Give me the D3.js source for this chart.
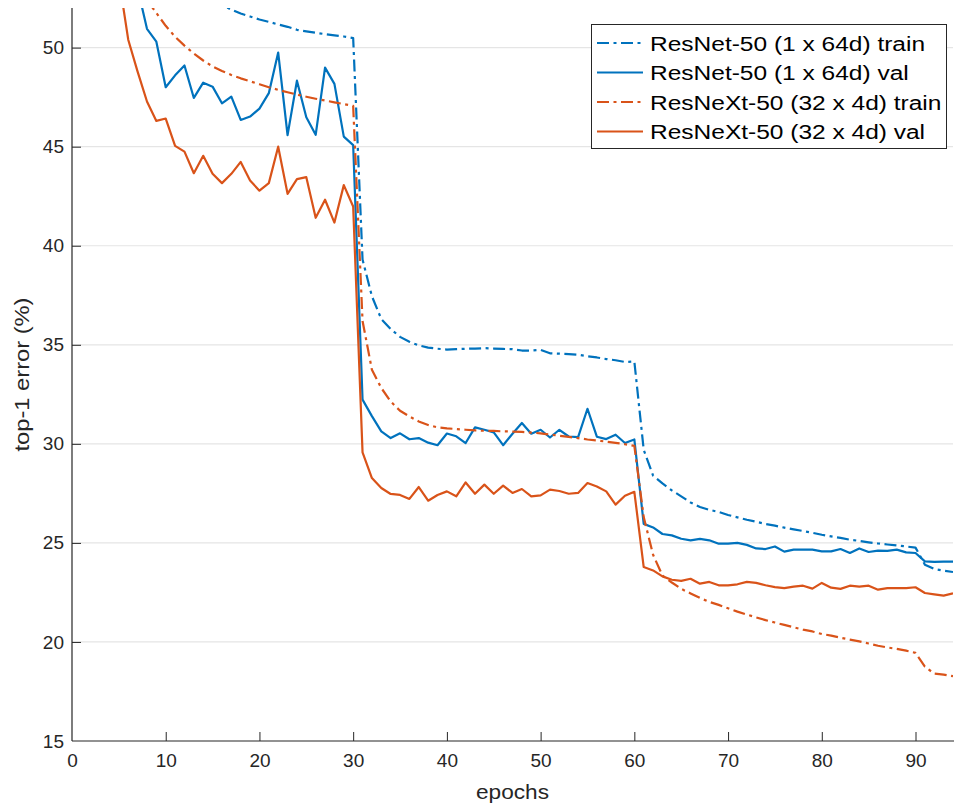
<!DOCTYPE html>
<html>
<head>
<meta charset="utf-8">
<script src="https://cdn.jsdelivr.net/npm/d3@7"></script>
<style>
  html, body { margin: 0; padding: 0; background: #fff; }
  svg { display: block; font-family: "Liberation Sans", Arial, Helvetica, sans-serif; }
</style>
</head>
<body>
<svg id="chart" width="954" height="804"></svg>
<script>
// ---------------- data ----------------
const seriesNames = [
  "ResNet-50 (1 x 64d) train",
  "ResNet-50 (1 x 64d) val",
  "ResNeXt-50 (32 x 4d) train",
  "ResNeXt-50 (32 x 4d) val"
];
const seriesStart = [15, 7, 8, 5]; // first epoch of each series (earlier values are off-scale)

const resnetTrain = [
  52.4, 52.15, 51.92, 51.72, 51.57, 51.42, 51.3, 51.17, 51.05, 50.9, 50.82, 50.75, 50.68, 50.62, 50.56, 50.48,
  39.3, 37.45, 36.3, 35.8, 35.4, 35.15, 34.97, 34.86, 34.8, 34.76, 34.78, 34.8, 34.81, 34.83, 34.81, 34.79, 34.78, 34.71, 34.71, 34.74,
  34.57, 34.55, 34.53, 34.5, 34.42, 34.36, 34.28, 34.22, 34.13, 34.16,
  29.7, 28.4, 28.0, 27.65, 27.35, 27.04, 26.81, 26.67, 26.56, 26.41, 26.29, 26.17, 26.07, 25.95, 25.87, 25.77, 25.68, 25.6, 25.51, 25.41,
  25.33, 25.25, 25.16, 25.1, 25.03, 24.97, 24.92, 24.87, 24.82, 24.76, 23.9, 23.68, 23.6, 23.53
];
const resnetVal = [
  53.0, 50.95, 50.3, 48.0, 48.6, 49.1, 47.46, 48.23, 48.03, 47.19, 47.53, 46.35, 46.52, 46.92, 47.7, 49.75, 45.58, 48.33, 46.49, 45.6,
  48.99, 48.17, 45.51, 45.08,
  32.23, 31.4, 30.63, 30.29, 30.53, 30.23, 30.29, 30.06, 29.93, 30.52, 30.38, 30.04, 30.83, 30.71, 30.58, 29.93, 30.51, 31.05, 30.51, 30.71,
  30.32, 30.71, 30.37, 30.34, 31.77, 30.36, 30.24, 30.46, 30.04, 30.22,
  25.96, 25.78, 25.45, 25.38, 25.21, 25.13, 25.2, 25.13, 24.96, 24.96, 25.0, 24.9, 24.72, 24.69, 24.82, 24.56, 24.66, 24.66, 24.66, 24.57,
  24.57, 24.69, 24.49, 24.72, 24.54, 24.61, 24.6, 24.66, 24.52, 24.49, 24.07, 24.04, 24.05, 24.05
];
const resnextTrain = [
  52.4, 51.75, 51.1, 50.55, 50.1, 49.7, 49.35, 49.05, 48.82, 48.62, 48.45, 48.3, 48.15, 48.0, 47.87, 47.75, 47.63, 47.52, 47.42, 47.33,
  47.24, 47.15, 47.06,
  36.2, 33.74, 32.82, 32.14, 31.67, 31.38, 31.13, 30.95, 30.83, 30.78, 30.75, 30.71, 30.68, 30.66, 30.65, 30.63, 30.62, 30.6, 30.57, 30.53,
  30.47, 30.41, 30.35, 30.29, 30.22, 30.17, 30.11, 30.05, 29.98, 29.9,
  26.3, 24.4, 23.35, 23.0, 22.68, 22.45, 22.22, 22.02, 21.87, 21.7, 21.53, 21.38, 21.24, 21.1, 20.98, 20.86, 20.74, 20.62, 20.53, 20.4,
  20.32, 20.21, 20.12, 20.03, 19.92, 19.81, 19.72, 19.65, 19.56, 19.45, 18.75, 18.4, 18.35, 18.27
];
const resnextVal = [
  53.5, 50.4, 48.79, 47.28, 46.3, 46.42, 45.04, 44.75, 43.66, 44.54, 43.63, 43.16, 43.63, 44.23, 43.29, 42.78, 43.16, 45.0, 42.62, 43.36,
  43.46, 41.41, 42.32, 41.17, 43.06, 41.98,
  29.57, 28.27, 27.77, 27.47, 27.42, 27.22, 27.82, 27.13, 27.42, 27.6, 27.35, 28.05, 27.48, 27.94, 27.48, 27.89, 27.52, 27.72, 27.35, 27.4,
  27.69, 27.62, 27.48, 27.52, 28.02, 27.85, 27.6, 26.93, 27.38, 27.58,
  23.78, 23.61, 23.31, 23.14, 23.08, 23.19, 22.94, 23.03, 22.86, 22.86, 22.91, 23.03, 22.98, 22.86, 22.77, 22.72, 22.79, 22.84, 22.69, 22.98,
  22.74, 22.68, 22.84, 22.79, 22.84, 22.64, 22.72, 22.72, 22.72, 22.76, 22.47, 22.4, 22.34, 22.45
];
const xTicks = [0, 10, 20, 30, 40, 50, 60, 70, 80, 90];
const yTicks = [15, 20, 25, 30, 35, 40, 45, 50];
const xLabel = "epochs";
const yLabel = "top-1 error (%)";

// ---------------- styles ----------------
const colors = ["#0072BD", "#0072BD", "#D95319", "#D95319"];
const dashes = ["12,4.5,3,4.5", null, "12,4.5,3,4.5", null];
const allValues = [resnetTrain, resnetVal, resnextTrain, resnextVal];

// ---------------- layout ----------------
const pLeft = 72, pRight = 953, pTop = 8, pBottom = 741;
const svg = d3.select("#chart");

const x = d3.scaleLinear().domain([0, 94]).range([pLeft, pRight]);
const y = d3.scaleLinear().domain([15, 52]).range([pBottom, pTop]);

svg.append("defs").append("clipPath").attr("id", "plotclip")
  .append("rect").attr("x", pLeft).attr("y", pTop).attr("width", pRight - pLeft).attr("height", pBottom - pTop);

// grid
svg.append("g").selectAll("line").data(yTicks.filter(t => t > 15)).join("line")
  .attr("x1", pLeft).attr("x2", pRight)
  .attr("y1", d => y(d)).attr("y2", d => y(d))
  .attr("stroke", "#e5e5e5").attr("stroke-width", 1.2);

// lines
const series = allValues.map((vals, i) => vals.map((v, j) => ({ e: seriesStart[i] + j, v })));
const line = d3.line().x(d => x(d.e)).y(d => y(d.v));
const plot = svg.append("g").attr("clip-path", "url(#plotclip)");
series.forEach((s, i) => {
  plot.append("path").datum(s)
    .attr("d", line)
    .attr("fill", "none")
    .attr("stroke", colors[i])
    .attr("stroke-width", 2.2)
    .attr("stroke-linejoin", "round")
    .attr("stroke-dasharray", dashes[i]);
});

// axes
const xAxis = d3.axisBottom(x).tickValues(xTicks).tickSizeInner(-9).tickSizeOuter(0).tickPadding(13);
const yAxis = d3.axisLeft(y).tickValues(yTicks).tickSizeInner(-9).tickSizeOuter(0).tickPadding(8);

const gx = svg.append("g").attr("transform", `translate(0,${pBottom})`).call(xAxis);
const gy = svg.append("g").attr("transform", `translate(${pLeft},0)`).call(yAxis);
gx.select(".domain").attr("d", `M${pLeft},0H${pRight + 1}`);
gy.select(".domain").attr("d", `M0,${pTop}V${pBottom}`);
[gx, gy].forEach(g => {
  g.select(".domain").attr("stroke", "#262626").attr("stroke-width", 1.2);
  g.selectAll(".tick line").attr("stroke", "#262626").attr("stroke-width", 1);
  g.selectAll(".tick text").attr("fill", "#262626").attr("font-size", 19)
    .attr("font-family", "'Liberation Sans', Arial, sans-serif");
});
gy.selectAll(".tick line").filter(d => d === 15).remove();
gx.selectAll(".tick line").filter(d => d === 0).remove();
gx.selectAll(".tick text").attr("dy", "0.71em");

// axis labels
svg.append("text").attr("x", x(47)).attr("y", 799)
  .attr("text-anchor", "middle").attr("font-size", 21).attr("fill", "#262626")
  .attr("textLength", 73).attr("lengthAdjust", "spacingAndGlyphs")
  .text(xLabel);
svg.append("text").attr("transform", `translate(29,${(pTop + pBottom) / 2}) rotate(-90)`)
  .attr("text-anchor", "middle").attr("font-size", 21).attr("fill", "#262626")
  .attr("textLength", 154).attr("lengthAdjust", "spacingAndGlyphs")
  .text(yLabel);

// legend
const lg = svg.append("g");
lg.append("rect").attr("x", 591.5).attr("y", 24.5).attr("width", 355).attr("height", 124)
  .attr("fill", "#fff").attr("stroke", "#262626").attr("stroke-width", 1);
const rowY = [43, 72.5, 102, 131.5];
seriesNames.forEach((name, i) => {
  lg.append("line").attr("x1", 597).attr("x2", 643).attr("y1", rowY[i]).attr("y2", rowY[i])
    .attr("stroke", colors[i]).attr("stroke-width", 2.2).attr("stroke-dasharray", dashes[i]);
  lg.append("text").attr("transform", `translate(650,${rowY[i]}) scale(1.167,1)`)
    .attr("dy", "0.36em").attr("font-size", 21).attr("fill", "#000")
    .text(name);
});
</script>
</body>
</html>
